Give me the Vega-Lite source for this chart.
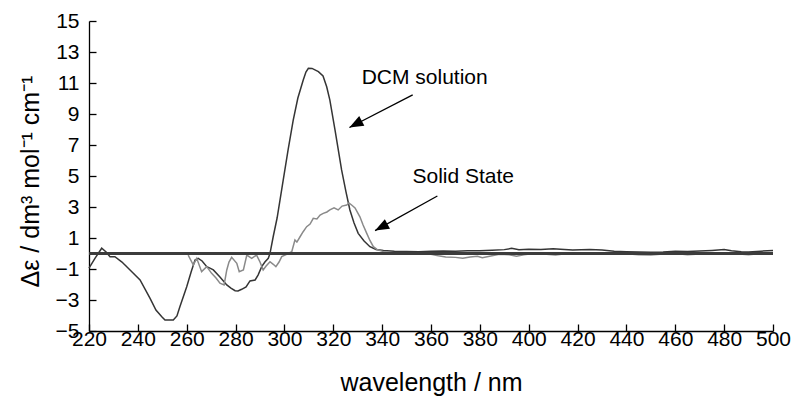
{
  "$schema": "https://vega.github.io/schema/vega-lite/v6.json",
  "width": 684,
  "height": 310,
  "autosize": "none",
  "padding": {"left": 89, "top": 21, "right": 22, "bottom": 66},
  "background": "white",
  "config": {
    "view": {"stroke": null},
    "axis": {
      "grid": false,
      "domainColor": "#000000",
      "domainWidth": 1.3,
      "tickColor": "#000000",
      "tickWidth": 1.3,
      "labelColor": "#000000",
      "titleColor": "#000000",
      "labelFont": "Liberation Sans",
      "titleFont": "Liberation Sans",
      "labelFontSize": 21,
      "titleFontSize": 25,
      "titleFontWeight": "normal"
    }
  },
  "resolve": {"axis": {"x": "independent", "y": "independent"}},
  "datasets": {
    "cd": [
      {"series": "DCM solution", "wavelength": 220, "de": -0.94},
      {"series": "DCM solution", "wavelength": 222.5, "de": -0.3},
      {"series": "DCM solution", "wavelength": 225.2, "de": 0.34},
      {"series": "DCM solution", "wavelength": 227, "de": 0.1},
      {"series": "DCM solution", "wavelength": 228.6, "de": -0.21},
      {"series": "DCM solution", "wavelength": 230.6, "de": -0.21},
      {"series": "DCM solution", "wavelength": 233.5, "de": -0.55},
      {"series": "DCM solution", "wavelength": 236.8, "de": -1.06},
      {"series": "DCM solution", "wavelength": 240.9, "de": -1.71},
      {"series": "DCM solution", "wavelength": 245, "de": -2.89},
      {"series": "DCM solution", "wavelength": 247.4, "de": -3.65},
      {"series": "DCM solution", "wavelength": 249.8, "de": -4.08},
      {"series": "DCM solution", "wavelength": 251.1, "de": -4.29},
      {"series": "DCM solution", "wavelength": 254.5, "de": -4.29},
      {"series": "DCM solution", "wavelength": 256, "de": -4.03},
      {"series": "DCM solution", "wavelength": 257.2, "de": -3.43},
      {"series": "DCM solution", "wavelength": 260, "de": -2.14},
      {"series": "DCM solution", "wavelength": 261.8, "de": -1.19},
      {"series": "DCM solution", "wavelength": 263.4, "de": -0.42},
      {"series": "DCM solution", "wavelength": 264.7, "de": -0.31},
      {"series": "DCM solution", "wavelength": 266.3, "de": -0.48},
      {"series": "DCM solution", "wavelength": 268.2, "de": -0.85},
      {"series": "DCM solution", "wavelength": 269.5, "de": -0.94},
      {"series": "DCM solution", "wavelength": 270.9, "de": -1.06},
      {"series": "DCM solution", "wavelength": 273.6, "de": -1.52},
      {"series": "DCM solution", "wavelength": 276.4, "de": -2.03},
      {"series": "DCM solution", "wavelength": 278.1, "de": -2.23},
      {"series": "DCM solution", "wavelength": 279.8, "de": -2.4},
      {"series": "DCM solution", "wavelength": 281, "de": -2.42},
      {"series": "DCM solution", "wavelength": 282.5, "de": -2.31},
      {"series": "DCM solution", "wavelength": 284.3, "de": -2.16},
      {"series": "DCM solution", "wavelength": 285.9, "de": -1.77},
      {"series": "DCM solution", "wavelength": 288, "de": -1.71},
      {"series": "DCM solution", "wavelength": 289.2, "de": -1.39},
      {"series": "DCM solution", "wavelength": 290.7, "de": -0.85},
      {"series": "DCM solution", "wavelength": 292, "de": -0.55},
      {"series": "DCM solution", "wavelength": 293.4, "de": -0.31},
      {"series": "DCM solution", "wavelength": 294.1, "de": 0.01},
      {"series": "DCM solution", "wavelength": 295.4, "de": 1.08},
      {"series": "DCM solution", "wavelength": 297, "de": 2.29},
      {"series": "DCM solution", "wavelength": 299.5, "de": 4.74},
      {"series": "DCM solution", "wavelength": 301.5, "de": 6.68},
      {"series": "DCM solution", "wavelength": 303.6, "de": 8.6},
      {"series": "DCM solution", "wavelength": 305.5, "de": 10.03},
      {"series": "DCM solution", "wavelength": 307.7, "de": 11.19},
      {"series": "DCM solution", "wavelength": 308.8, "de": 11.71},
      {"series": "DCM solution", "wavelength": 309.8, "de": 11.95},
      {"series": "DCM solution", "wavelength": 311.3, "de": 11.94},
      {"series": "DCM solution", "wavelength": 313.9, "de": 11.73},
      {"series": "DCM solution", "wavelength": 315.8, "de": 11.45},
      {"series": "DCM solution", "wavelength": 317.3, "de": 10.76},
      {"series": "DCM solution", "wavelength": 318.6, "de": 9.9},
      {"series": "DCM solution", "wavelength": 320.7, "de": 7.97},
      {"series": "DCM solution", "wavelength": 323.4, "de": 5.39},
      {"series": "DCM solution", "wavelength": 325.2, "de": 3.97},
      {"series": "DCM solution", "wavelength": 326.8, "de": 2.81},
      {"series": "DCM solution", "wavelength": 328.5, "de": 1.97},
      {"series": "DCM solution", "wavelength": 330.2, "de": 1.3},
      {"series": "DCM solution", "wavelength": 332.6, "de": 0.81},
      {"series": "DCM solution", "wavelength": 335, "de": 0.44},
      {"series": "DCM solution", "wavelength": 337.5, "de": 0.26},
      {"series": "DCM solution", "wavelength": 340.5, "de": 0.19},
      {"series": "DCM solution", "wavelength": 345, "de": 0.15},
      {"series": "DCM solution", "wavelength": 350, "de": 0.13},
      {"series": "DCM solution", "wavelength": 355, "de": 0.12},
      {"series": "DCM solution", "wavelength": 360, "de": 0.14},
      {"series": "DCM solution", "wavelength": 365, "de": 0.16},
      {"series": "DCM solution", "wavelength": 370, "de": 0.14},
      {"series": "DCM solution", "wavelength": 375, "de": 0.18},
      {"series": "DCM solution", "wavelength": 380, "de": 0.17},
      {"series": "DCM solution", "wavelength": 385, "de": 0.21},
      {"series": "DCM solution", "wavelength": 390, "de": 0.25},
      {"series": "DCM solution", "wavelength": 393, "de": 0.33},
      {"series": "DCM solution", "wavelength": 396, "de": 0.24},
      {"series": "DCM solution", "wavelength": 400, "de": 0.27},
      {"series": "DCM solution", "wavelength": 405, "de": 0.26},
      {"series": "DCM solution", "wavelength": 410, "de": 0.3},
      {"series": "DCM solution", "wavelength": 413, "de": 0.27},
      {"series": "DCM solution", "wavelength": 418, "de": 0.23},
      {"series": "DCM solution", "wavelength": 425, "de": 0.25},
      {"series": "DCM solution", "wavelength": 430, "de": 0.22},
      {"series": "DCM solution", "wavelength": 435, "de": 0.15},
      {"series": "DCM solution", "wavelength": 440, "de": 0.12},
      {"series": "DCM solution", "wavelength": 445, "de": 0.1},
      {"series": "DCM solution", "wavelength": 450, "de": 0.08},
      {"series": "DCM solution", "wavelength": 455, "de": 0.1},
      {"series": "DCM solution", "wavelength": 460, "de": 0.14},
      {"series": "DCM solution", "wavelength": 465, "de": 0.13},
      {"series": "DCM solution", "wavelength": 470, "de": 0.16},
      {"series": "DCM solution", "wavelength": 475, "de": 0.2},
      {"series": "DCM solution", "wavelength": 480, "de": 0.25},
      {"series": "DCM solution", "wavelength": 483, "de": 0.18},
      {"series": "DCM solution", "wavelength": 487, "de": 0.12},
      {"series": "DCM solution", "wavelength": 490, "de": 0.1},
      {"series": "DCM solution", "wavelength": 495, "de": 0.15},
      {"series": "DCM solution", "wavelength": 500, "de": 0.2},
      {"series": "Solid State", "wavelength": 260.6, "de": -0.1},
      {"series": "Solid State", "wavelength": 262.7, "de": -0.74},
      {"series": "Solid State", "wavelength": 264.1, "de": -0.31},
      {"series": "Solid State", "wavelength": 266.1, "de": -1.17},
      {"series": "Solid State", "wavelength": 268.2, "de": -0.85},
      {"series": "Solid State", "wavelength": 270.2, "de": -1.28},
      {"series": "Solid State", "wavelength": 272, "de": -1.58},
      {"series": "Solid State", "wavelength": 273.6, "de": -1.92},
      {"series": "Solid State", "wavelength": 275.3, "de": -2.03},
      {"series": "Solid State", "wavelength": 276.4, "de": -1.06},
      {"series": "Solid State", "wavelength": 277.3, "de": -0.55},
      {"series": "Solid State", "wavelength": 278.4, "de": -0.25},
      {"series": "Solid State", "wavelength": 280.5, "de": -0.63},
      {"series": "Solid State", "wavelength": 281.5, "de": -1.17},
      {"series": "Solid State", "wavelength": 283.2, "de": -1.06},
      {"series": "Solid State", "wavelength": 284.6, "de": -0.1},
      {"series": "Solid State", "wavelength": 286.6, "de": -0.31},
      {"series": "Solid State", "wavelength": 288.6, "de": -0.1},
      {"series": "Solid State", "wavelength": 290, "de": -0.55},
      {"series": "Solid State", "wavelength": 291.3, "de": -1.06},
      {"series": "Solid State", "wavelength": 292.5, "de": -0.81},
      {"series": "Solid State", "wavelength": 294.1, "de": -0.53},
      {"series": "Solid State", "wavelength": 295.3, "de": -0.68},
      {"series": "Solid State", "wavelength": 296.5, "de": -0.85},
      {"series": "Solid State", "wavelength": 297.8, "de": -0.55},
      {"series": "Solid State", "wavelength": 298.9, "de": -0.2},
      {"series": "Solid State", "wavelength": 300.9, "de": -0.05},
      {"series": "Solid State", "wavelength": 303, "de": 0.12},
      {"series": "Solid State", "wavelength": 304.3, "de": 0.87},
      {"series": "Solid State", "wavelength": 305.1, "de": 0.74},
      {"series": "Solid State", "wavelength": 306.4, "de": 1.08},
      {"series": "Solid State", "wavelength": 307.6, "de": 1.39},
      {"series": "Solid State", "wavelength": 309.1, "de": 1.73},
      {"series": "Solid State", "wavelength": 310.5, "de": 1.9},
      {"series": "Solid State", "wavelength": 311.8, "de": 2.27},
      {"series": "Solid State", "wavelength": 313.3, "de": 2.23},
      {"series": "Solid State", "wavelength": 314.6, "de": 2.48},
      {"series": "Solid State", "wavelength": 315.9, "de": 2.59},
      {"series": "Solid State", "wavelength": 317.4, "de": 2.68},
      {"series": "Solid State", "wavelength": 318.6, "de": 2.81},
      {"series": "Solid State", "wavelength": 320.3, "de": 2.94},
      {"series": "Solid State", "wavelength": 322, "de": 2.81},
      {"series": "Solid State", "wavelength": 323.6, "de": 3.06},
      {"series": "Solid State", "wavelength": 325.5, "de": 3.13},
      {"series": "Solid State", "wavelength": 326.4, "de": 3.26},
      {"series": "Solid State", "wavelength": 327.5, "de": 3.13},
      {"series": "Solid State", "wavelength": 328.9, "de": 2.94},
      {"series": "Solid State", "wavelength": 330.9, "de": 2.37},
      {"series": "Solid State", "wavelength": 332.2, "de": 1.84},
      {"series": "Solid State", "wavelength": 333.7, "de": 1.3},
      {"series": "Solid State", "wavelength": 335, "de": 0.84},
      {"series": "Solid State", "wavelength": 336.4, "de": 0.44},
      {"series": "Solid State", "wavelength": 337.9, "de": 0.26},
      {"series": "Solid State", "wavelength": 340.5, "de": 0.12},
      {"series": "Solid State", "wavelength": 345, "de": 0.02},
      {"series": "Solid State", "wavelength": 350, "de": 0.0},
      {"series": "Solid State", "wavelength": 355, "de": -0.03},
      {"series": "Solid State", "wavelength": 360, "de": -0.05},
      {"series": "Solid State", "wavelength": 363, "de": -0.15},
      {"series": "Solid State", "wavelength": 366, "de": -0.22},
      {"series": "Solid State", "wavelength": 370, "de": -0.25},
      {"series": "Solid State", "wavelength": 373, "de": -0.31},
      {"series": "Solid State", "wavelength": 376, "de": -0.22},
      {"series": "Solid State", "wavelength": 379, "de": -0.18},
      {"series": "Solid State", "wavelength": 381, "de": -0.27},
      {"series": "Solid State", "wavelength": 384, "de": -0.18},
      {"series": "Solid State", "wavelength": 388, "de": -0.05},
      {"series": "Solid State", "wavelength": 392, "de": -0.08},
      {"series": "Solid State", "wavelength": 395, "de": -0.17},
      {"series": "Solid State", "wavelength": 398, "de": -0.08},
      {"series": "Solid State", "wavelength": 402, "de": 0.0},
      {"series": "Solid State", "wavelength": 406, "de": -0.03},
      {"series": "Solid State", "wavelength": 411, "de": -0.1},
      {"series": "Solid State", "wavelength": 415, "de": -0.02},
      {"series": "Solid State", "wavelength": 420, "de": 0.0},
      {"series": "Solid State", "wavelength": 425, "de": 0.02},
      {"series": "Solid State", "wavelength": 430, "de": -0.03},
      {"series": "Solid State", "wavelength": 435, "de": 0.0},
      {"series": "Solid State", "wavelength": 440, "de": -0.02},
      {"series": "Solid State", "wavelength": 445, "de": -0.08},
      {"series": "Solid State", "wavelength": 450, "de": -0.1},
      {"series": "Solid State", "wavelength": 455, "de": -0.03},
      {"series": "Solid State", "wavelength": 460, "de": 0.0},
      {"series": "Solid State", "wavelength": 465, "de": -0.08},
      {"series": "Solid State", "wavelength": 470, "de": -0.04},
      {"series": "Solid State", "wavelength": 475, "de": 0.02},
      {"series": "Solid State", "wavelength": 480, "de": 0.05},
      {"series": "Solid State", "wavelength": 485, "de": -0.02},
      {"series": "Solid State", "wavelength": 490, "de": -0.08},
      {"series": "Solid State", "wavelength": 495, "de": 0.0},
      {"series": "Solid State", "wavelength": 500, "de": 0.06}
    ],
    "notes": [
      {"label": "DCM solution", "tx": 357.4, "ty": 11.3, "x1": 352.5, "y1": 10.23, "x2": 326.6, "y2": 8.13},
      {"label": "Solid State", "tx": 373.2, "ty": 4.92, "x1": 362.6, "y1": 3.71, "x2": 337.1, "y2": 1.48}
    ]
  },
  "layer": [
    {
      "data": {"name": "cd"},
      "mark": {"type": "line", "strokeWidth": 1.5, "interpolate": "linear"},
      "encoding": {
        "x": {
          "field": "wavelength", "type": "quantitative",
          "scale": {"domain": [220, 500], "nice": false, "zero": false},
          "axis": {
            "values": [220, 240, 260, 280, 300, 320, 340, 360, 380, 400, 420, 440, 460, 480, 500],
            "ticks": true,
            "tickSize": -7,
            "labelPadding": 4,
            "labelOverlap": false,
            "labelFlush": false,
            "title": "wavelength / nm",
            "titleFontSize": 25,
            "titleX": 342,
            "titleY": 59,
            "titleAlign": "center",
            "titleBaseline": "alphabetic"
          }
        },
        "y": {
          "field": "de", "type": "quantitative",
          "scale": {"domain": [-5, 15], "nice": false, "zero": false},
          "axis": {
            "values": [-5, -3, -1, 1, 3, 5, 7, 9, 11, 13, 15],
            "ticks": true,
            "tickSize": -7,
            "labelPadding": 17,
            "labelOverlap": false,
            "labelFlush": false,
            "title": "Δε / dm³ mol⁻¹ cm⁻¹",
            "titleAngle": -90,
            "titleX": -51,
            "titleY": 160,
            "titleAlign": "center",
            "titleBaseline": "alphabetic"
          }
        },
        "color": {
          "field": "series", "type": "nominal",
          "scale": {"domain": ["Solid State", "DCM solution"], "range": ["#8a8a8a", "#353535"]},
          "legend": null
        }
      }
    },
    {
      "data": {"name": "cd"},
      "mark": {"type": "rule", "color": "#3c3c3c", "strokeWidth": 1.5},
      "encoding": {
        "y": {"datum": 0, "type": "quantitative", "axis": null}
      }
    },
    {
      "data": {"name": "notes"},
      "mark": {"type": "rule", "color": "#000000", "strokeWidth": 1.3},
      "encoding": {
        "x": {"field": "x1", "type": "quantitative", "axis": null},
        "y": {"field": "y1", "type": "quantitative", "axis": null},
        "x2": {"field": "x2"},
        "y2": {"field": "y2"}
      }
    },
    {
      "data": {"name": "notes"},
      "mark": {"type": "point", "shape": "M0,0L0.39,1L-0.39,1Z", "filled": true, "color": "#000000", "opacity": 1, "size": 784, "angle": 242, "strokeWidth": 0},
      "encoding": {
        "x": {"field": "x2", "type": "quantitative", "axis": null},
        "y": {"field": "y2", "type": "quantitative", "axis": null}
      }
    },
    {
      "data": {"name": "notes"},
      "mark": {"type": "text", "font": "Liberation Sans", "fontSize": 21, "color": "#000000", "align": "center", "baseline": "middle"},
      "encoding": {
        "x": {"field": "tx", "type": "quantitative", "axis": null},
        "y": {"field": "ty", "type": "quantitative", "axis": null},
        "text": {"field": "label"}
      }
    }
  ]
}
